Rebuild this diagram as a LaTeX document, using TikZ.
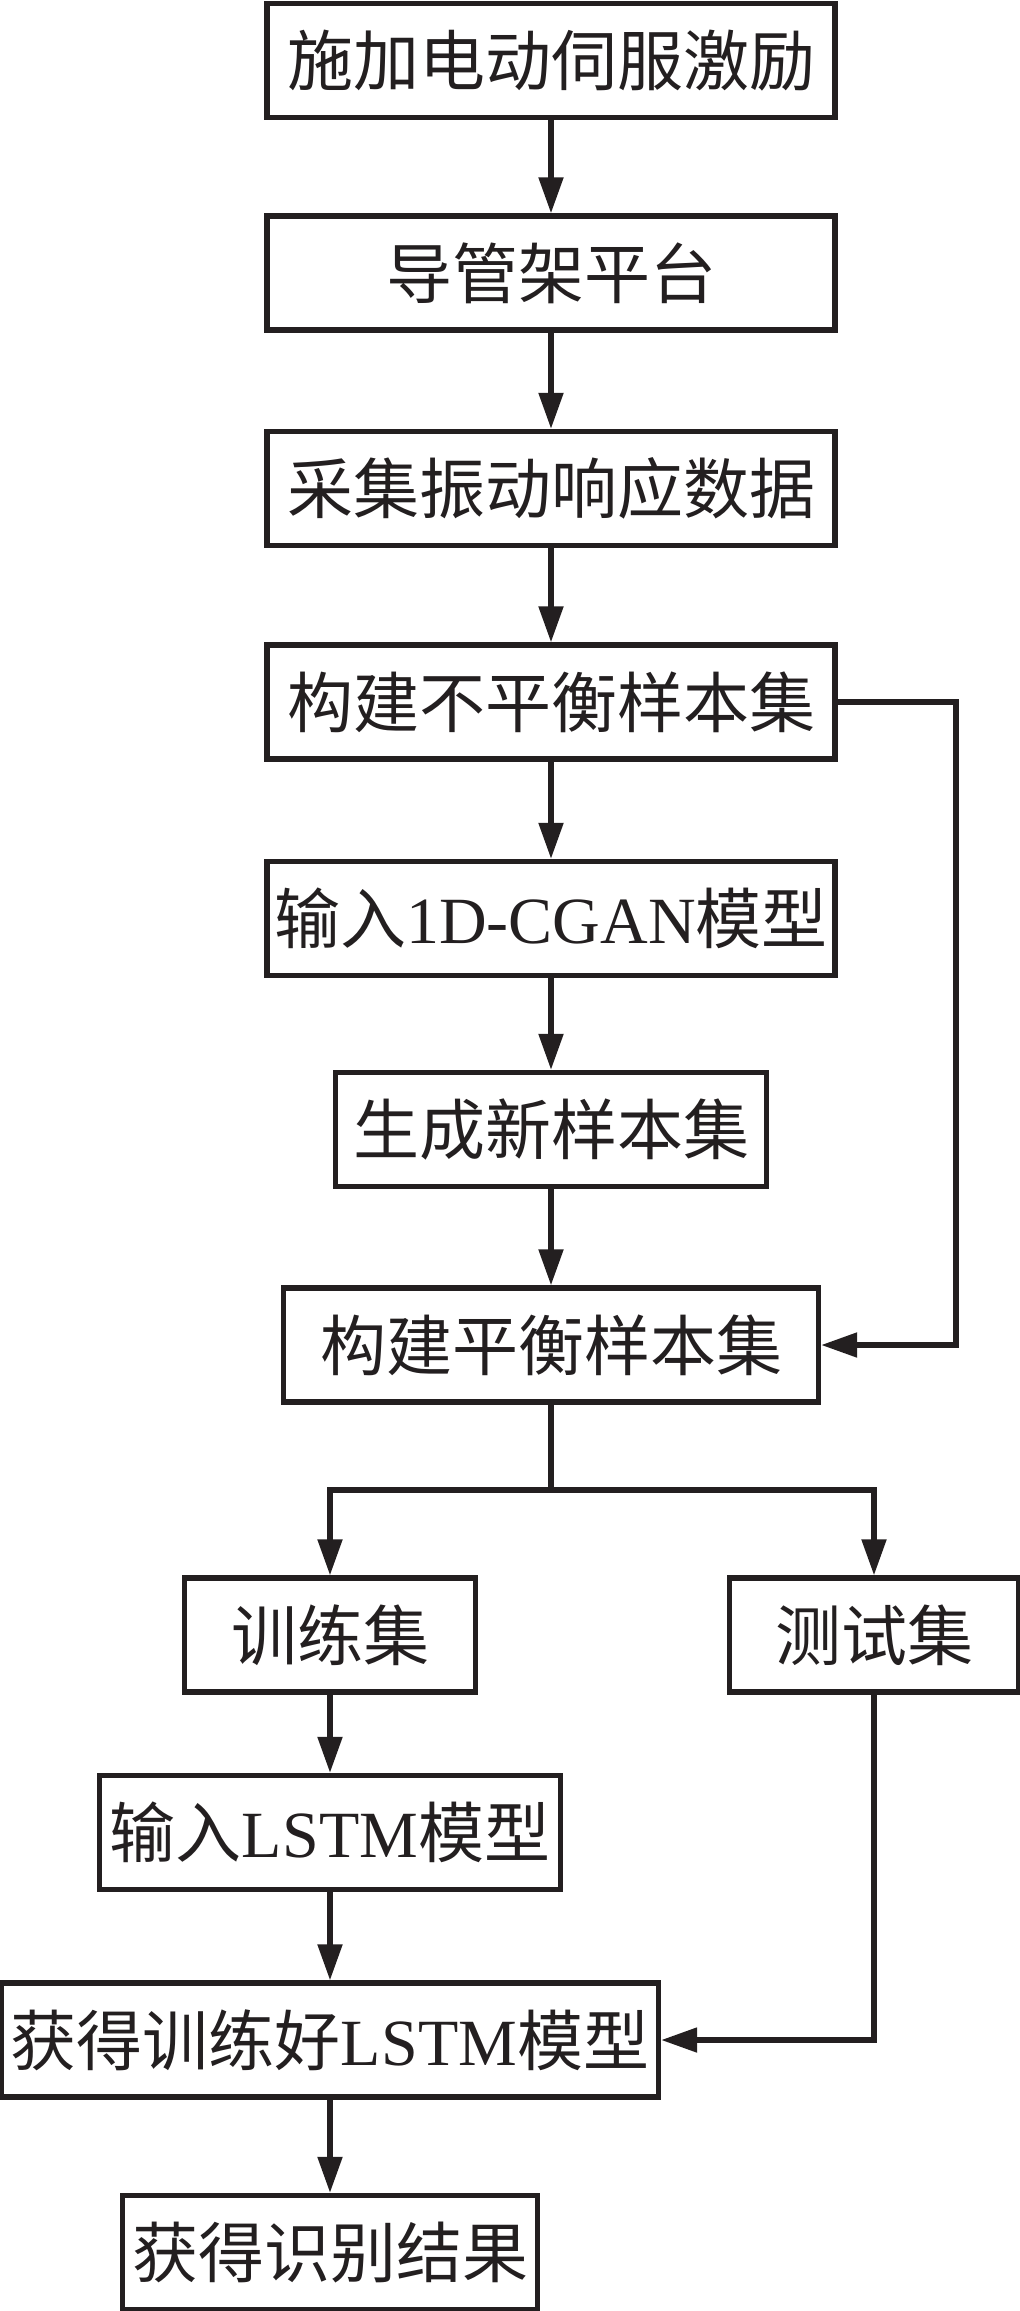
\documentclass[tikz,border=0pt]{standalone}
\usepackage{fontspec}
\setmainfont{Liberation Serif}
\newfontfamily\cjk{Noto Sans CJK SC}
\usetikzlibrary{arrows.meta}
\definecolor{ink}{HTML}{231F20}
\tikzset{
  box/.style={draw=ink, line width=2.7pt, inner sep=0pt, minimum height=57pt,
    font=\fontsize{33pt}{38pt}\selectfont\cjk, text=ink},
  arr/.style={draw=ink, line width=2.6pt, -{Triangle[length=18pt,width=12pt]}},
  ln/.style={draw=ink, line width=2.6pt}
}
\begin{document}
\begin{tikzpicture}[x=0.5pt,y=-0.5pt]
\useasboundingbox (0,0) rectangle (1020,2311);
\node[box, minimum width=284pt] (B1) at (551,60.5) {施加电动伺服激励};
\node[box, minimum width=284pt] (B2) at (551,273) {导管架平台};
\node[box, minimum width=284pt] (B3) at (551,488.5) {采集振动响应数据};
\node[box, minimum width=284pt] (B4) at (551,702) {构建不平衡样本集};
\node[box, minimum width=284pt] (B5) at (551,918.5) {输入{\rmfamily 1D-CGAN}模型};
\node[box, minimum width=215.5pt] (B6) at (551,1129.5) {生成新样本集};
\node[box, minimum width=267.5pt] (B7) at (551,1345) {构建平衡样本集};
\node[box, minimum width=145.5pt] (B8) at (330,1635) {训练集};
\node[box, minimum width=144.5pt] (B9) at (874,1635) {测试集};
\node[box, minimum width=230.5pt] (B10) at (330,1832.5) {输入{\rmfamily LSTM}模型};
\node[box, minimum width=328.5pt] (B11) at (330,2040) {获得训练好{\rmfamily LSTM}模型};
\node[box, minimum width=207.5pt] (B12) at (330,2252.5) {获得识别结果};
\coordinate (sp) at (551,1490);
\coordinate (lp) at (956,702);
\draw[arr] (B1) -- (B2);
\draw[arr] (B2) -- (B3);
\draw[arr] (B3) -- (B4);
\draw[arr] (B4) -- (B5);
\draw[arr] (B5) -- (B6);
\draw[arr] (B6) -- (B7);
\draw[arr] (B4.east) -- (lp) |- (B7.east);
\draw[ln] (B7.south) -- (sp);
\draw[arr] (sp) -| (B8.north);
\draw[arr] (sp) -| (B9.north);
\draw[arr] (B8) -- (B10);
\draw[arr] (B10) -- (B11);
\draw[arr] (B11) -- (B12);
\draw[arr] (B9.south) |- (B11.east);
\end{tikzpicture}
\end{document}
